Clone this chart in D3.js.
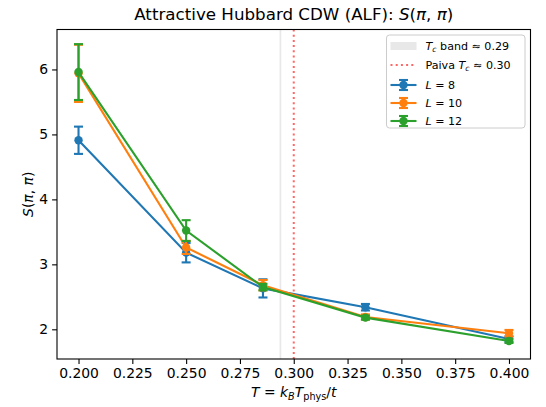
<!DOCTYPE html>
<html>
<head>
<meta charset="utf-8">
<script src="https://cdn.jsdelivr.net/npm/d3@7"></script>
<style>
  body { margin: 0; background: #fff; }
  svg text { font-family: "DejaVu Sans", sans-serif; }
</style>
</head>
<body>
<div class="canvas"></div>
<script>
// temperatures (T = 1/beta) and S(pi,pi) per lattice size
const temps = [0.2, 0.25, 0.2857, 0.3333, 0.4];
const sL8 = [4.91, 3.18, 2.63, 2.34, 1.85];
const eL8 = [0.21, 0.15, 0.14, 0.05, 0.04];
const sL10 = [5.94, 3.26, 2.68, 2.19, 1.94];
const eL10 = [0.44, 0.10, 0.08, 0.04, 0.05];
const sL12 = [5.96, 3.52, 2.65, 2.18, 1.82];
const eL12 = [0.43, 0.16, 0.05, 0.03, 0.03];
const sizes = [8, 10, 12];
const xTicks = [0.2, 0.225, 0.25, 0.275, 0.3, 0.325, 0.35, 0.375, 0.4];
const yTicks = [2, 3, 4, 5, 6];
const tcBand = [0.2934, 0.2942];
const paivaTc = 0.30;

const colours = ['#1f77b4', '#ff7f0e', '#2ca02c'];
const series = [
  { L: sizes[0], s: sL8, e: eL8 },
  { L: sizes[1], s: sL10, e: eL10 },
  { L: sizes[2], s: sL12, e: eL12 }
];

const dims = { width: 546, height: 407 };
const plot = { left: 57, right: 530.5, top: 29.5, bottom: 359 };

const svg = d3.select('.canvas')
  .append('svg')
  .attr('width', dims.width)
  .attr('height', dims.height);

const x = d3.scaleLinear().domain([0.19, 0.41]).range([plot.left, plot.right]);
const y = d3.scaleLinear().domain([1.543, 6.615]).range([plot.bottom, plot.top]);

// Tc band and Paiva line
svg.append('rect')
  .attr('x', x(tcBand[0]))
  .attr('y', plot.top)
  .attr('width', x(tcBand[1]) - x(tcBand[0]))
  .attr('height', plot.bottom - plot.top)
  .attr('fill', '#e8e8e8');

svg.append('line')
  .attr('x1', x(paivaTc)).attr('x2', x(paivaTc))
  .attr('y1', plot.top).attr('y2', plot.bottom)
  .attr('stroke', '#ff4040')
  .attr('stroke-opacity', 0.8)
  .attr('stroke-width', 2)
  .attr('stroke-dasharray', '2,3.2');

// series: line, error bars, markers
const line = d3.line().x(d => x(d.t)).y(d => y(d.v));

series.forEach((sr, i) => {
  const pts = temps.map((t, j) => ({ t: t, v: sr.s[j], e: sr.e[j] }));
  const g = svg.append('g');
  g.append('path')
    .attr('d', line(pts))
    .attr('fill', 'none')
    .attr('stroke', colours[i])
    .attr('stroke-width', 2.1);
  const eb = g.selectAll('.eb').data(pts).enter().append('g');
  eb.append('line')
    .attr('x1', d => x(d.t)).attr('x2', d => x(d.t))
    .attr('y1', d => y(d.v - d.e)).attr('y2', d => y(d.v + d.e))
    .attr('stroke', colours[i]).attr('stroke-width', 2.1);
  [-1, 1].forEach(sgn => {
    eb.append('line')
      .attr('x1', d => x(d.t) - 4.5).attr('x2', d => x(d.t) + 4.5)
      .attr('y1', d => y(d.v + sgn * d.e)).attr('y2', d => y(d.v + sgn * d.e))
      .attr('stroke', colours[i]).attr('stroke-width', 2.1);
  });
  g.selectAll('circle').data(pts).enter().append('circle')
    .attr('cx', d => x(d.t)).attr('cy', d => y(d.v))
    .attr('r', 4.2)
    .attr('fill', colours[i]);
});

// axes
const xAxis = svg.append('g')
  .attr('transform', `translate(0, ${plot.bottom})`)
  .call(d3.axisBottom(x).tickValues(xTicks).tickFormat(d3.format('.3f')).tickSize(4.9).tickPadding(4));
const yAxis = svg.append('g')
  .attr('transform', `translate(${plot.left}, 0)`)
  .call(d3.axisLeft(y).tickValues(yTicks).tickFormat(d3.format('d')).tickSize(4.9).tickPadding(4));
[xAxis, yAxis].forEach(a => {
  a.select('.domain').remove();
  a.selectAll('text').attr('font-size', 13.9).attr('fill', '#000').style('font-family', 'DejaVu Sans');
  a.selectAll('line').attr('stroke', '#000').attr('stroke-width', 1.1);
});

svg.append('rect')
  .attr('x', plot.left).attr('y', plot.top)
  .attr('width', plot.right - plot.left).attr('height', plot.bottom - plot.top)
  .attr('fill', 'none').attr('stroke', '#000').attr('stroke-width', 1.1);

// title
const title = svg.append('text')
  .attr('x', (plot.left + plot.right) / 2).attr('y', 20)
  .attr('text-anchor', 'middle').attr('font-size', 16.7);
title.append('tspan').text('Attractive Hubbard CDW (ALF): ');
title.append('tspan').attr('font-style', 'italic').text('S');
title.append('tspan').text('(');
title.append('tspan').attr('font-style', 'italic').text('π');
title.append('tspan').text(', ');
title.append('tspan').attr('font-style', 'italic').text('π');
title.append('tspan').text(')');

// axis labels
const xl = svg.append('text')
  .attr('x', (plot.left + plot.right) / 2).attr('y', 397)
  .attr('text-anchor', 'middle').attr('font-size', 13.9);
xl.append('tspan').attr('font-style', 'italic').text('T');
xl.append('tspan').text(' = ');
xl.append('tspan').attr('font-style', 'italic').text('k');
xl.append('tspan').attr('font-style', 'italic').attr('font-size', 9.7).attr('dy', 3).text('B');
xl.append('tspan').attr('font-style', 'italic').attr('dy', -3).text('T');
xl.append('tspan').attr('font-size', 9.7).attr('dy', 3).text('phys');
xl.append('tspan').attr('dy', -3).text('/');
xl.append('tspan').attr('font-style', 'italic').text('t');

const yl = svg.append('text')
  .attr('transform', `translate(33, ${(plot.top + plot.bottom) / 2}) rotate(-90)`)
  .attr('text-anchor', 'middle').attr('font-size', 13.9);
yl.append('tspan').attr('font-style', 'italic').text('S');
yl.append('tspan').text('(');
yl.append('tspan').attr('font-style', 'italic').text('π');
yl.append('tspan').text(', ');
yl.append('tspan').attr('font-style', 'italic').text('π');
yl.append('tspan').text(')');

// legend
const legend = svg.append('g').attr('transform', 'translate(386.5, 35)');
legend.append('rect')
  .attr('width', 138.5).attr('height', 93)
  .attr('rx', 3)
  .attr('fill', '#fff').attr('fill-opacity', 0.8)
  .attr('stroke', '#ccc').attr('stroke-width', 1);

const rowY = [11, 30, 50, 68, 86];
const fs = 11.1;
const hx0 = 4, hx1 = 30, tx = 39;

legend.append('rect')
  .attr('x', hx0).attr('y', rowY[0] - 4).attr('width', hx1 - hx0).attr('height', 8)
  .attr('fill', '#e8e8e8');
const t0 = legend.append('text').attr('x', tx).attr('y', rowY[0] + 4).attr('font-size', fs);
t0.append('tspan').attr('font-style', 'italic').text('T');
t0.append('tspan').attr('font-style', 'italic').attr('font-size', 7.8).attr('dy', 2).text('c');
t0.append('tspan').attr('dy', -2).text(' band  ≈ 0.29');

legend.append('line')
  .attr('x1', hx0).attr('x2', hx1).attr('y1', rowY[1]).attr('y2', rowY[1])
  .attr('stroke', '#ff4040').attr('stroke-opacity', 0.8)
  .attr('stroke-width', 2).attr('stroke-dasharray', '2,3.2');
const t1 = legend.append('text').attr('x', tx).attr('y', rowY[1] + 4).attr('font-size', fs);
t1.append('tspan').text('Paiva ');
t1.append('tspan').attr('font-style', 'italic').text('T');
t1.append('tspan').attr('font-style', 'italic').attr('font-size', 7.8).attr('dy', 2).text('c');
t1.append('tspan').attr('dy', -2).text(' ≈ 0.30');

series.forEach((sr, i) => {
  const yy = rowY[i + 2];
  const c = colours[i];
  legend.append('line').attr('x1', hx0).attr('x2', hx1).attr('y1', yy).attr('y2', yy)
    .attr('stroke', c).attr('stroke-width', 2.1);
  const mx = (hx0 + hx1) / 2;
  legend.append('line').attr('x1', mx).attr('x2', mx).attr('y1', yy - 5).attr('y2', yy + 5)
    .attr('stroke', c).attr('stroke-width', 2.1);
  [-5, 5].forEach(dy => legend.append('line')
    .attr('x1', mx - 4.5).attr('x2', mx + 4.5).attr('y1', yy + dy).attr('y2', yy + dy)
    .attr('stroke', c).attr('stroke-width', 2.1));
  legend.append('circle').attr('cx', mx).attr('cy', yy).attr('r', 4.2).attr('fill', c);
  const t = legend.append('text').attr('x', tx).attr('y', yy + 4).attr('font-size', fs);
  t.append('tspan').attr('font-style', 'italic').text('L');
  t.append('tspan').text(' = ' + sr.L);
});
</script>
</body>
</html>
